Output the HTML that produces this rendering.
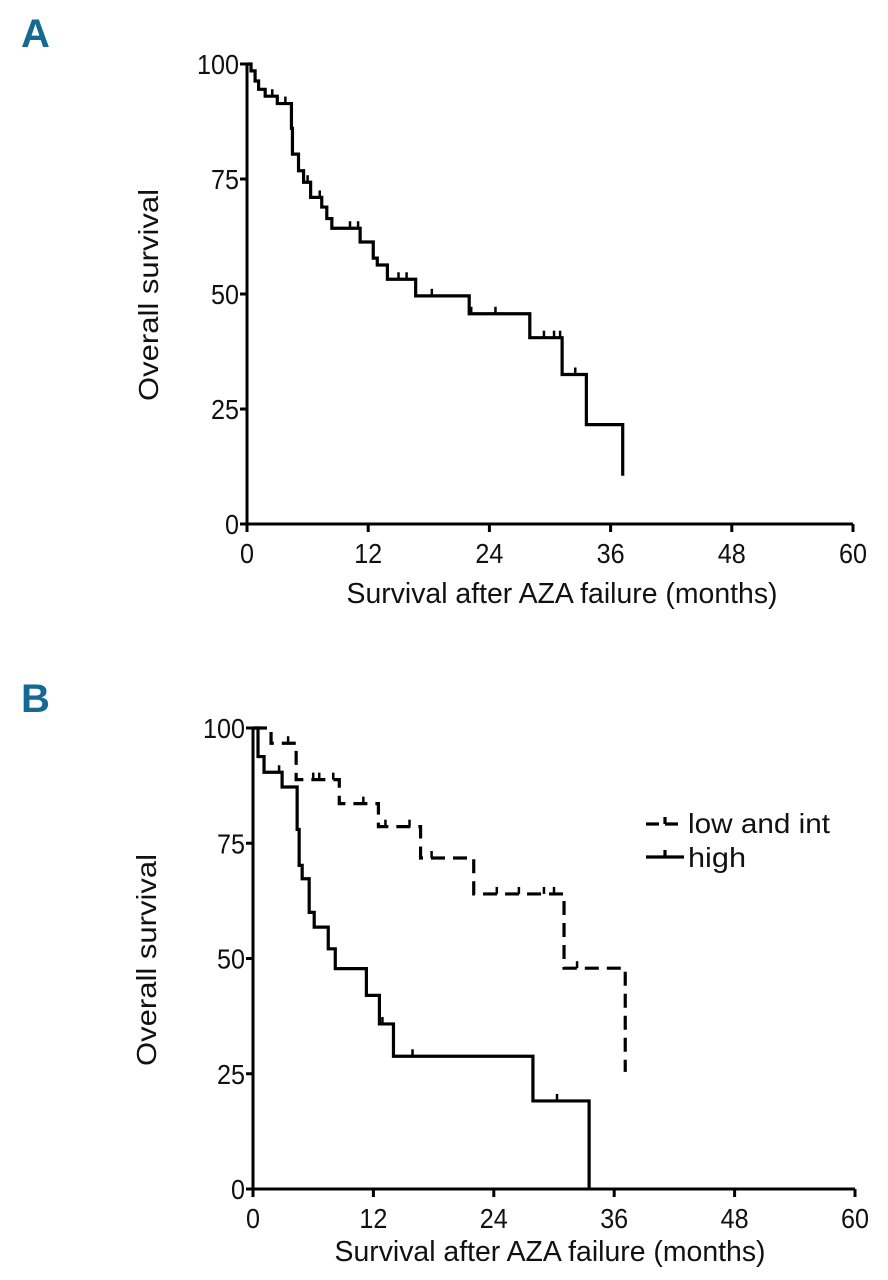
<!DOCTYPE html>
<html><head><meta charset="utf-8"><style>
html,body{margin:0;padding:0;background:#fff;}
svg{display:block;}
text{font-family:"Liberation Sans Narrow","Liberation Sans",sans-serif;fill:#111;}
</style></head><body>
<svg id="fig" width="888" height="1280" viewBox="0 0 888 1280" xmlns="http://www.w3.org/2000/svg">
<rect width="888" height="1280" fill="#fff"/>
</svg>
<script>
// Panel A data
const aTimes = [0,0.4,0.8,1.15,1.8,3,4.4,4.5,5.1,5.6,6.3,7.4,7.9,8.4,11.2,12.5,12.9,13.9,16.7,22,28,31.2,33.6,37.2];
const aSurv  = [100,98.5,96.3,94.5,93,91.4,86,80.4,76.8,74.3,71,68.9,66.4,64.3,61.3,57.8,56.3,53.2,49.6,45.7,40.5,32.5,21.6,10.5];
const aCensor = [2.5,3.8,6.0,7.2,10.2,11.0,15.0,15.8,18.3,22.2,24.6,29.4,30.4,31.0,32.5];
// Panel B data
const bLowTimes = [0,1.8,4.3,8.6,12.5,16.7,22,31,37.1];
const bLowSurv  = [100,96.7,88.8,83.6,78.6,71.8,64,47.9,25.4];
const bLowCensor = [3.5,6.0,6.6,8.0,11.0,13.2,15.6,17.8,24.3,26.5,29.0,30.0,32.3];
const bHighTimes = [0,0.5,1.1,2.9,4.4,4.6,4.9,5.6,6.1,7.5,8.2,11.3,12.6,14,27.9,33.5];
const bHighSurv  = [100,93.8,90.4,87.2,78,70.2,67.3,60,56.8,52.1,47.8,42,35.8,28.8,19.1,0];
const bHighCensor = [2.6,12.9,15.9,30.3];
const xTicks = [0,12,24,36,48,60];
const yTicks = [0,25,50,75,100];

const NS="http://www.w3.org/2000/svg";
const svg=document.getElementById('fig');
function el(tag,attrs,parent){const e=document.createElementNS(NS,tag);for(const k in attrs)e.setAttribute(k,attrs[k]);(parent||svg).appendChild(e);return e;}

function panel(cfg){
  const g=el('g',{});
  
  
  const sx=t=>cfg.x0+(cfg.x60-cfg.x0)*t/60;
  const sy=v=>cfg.y0+(cfg.y100-cfg.y0)*v/100;
  const lbl=el('text',{x:cfg.lx,y:cfg.ly,'font-size':40,'font-weight':'bold',style:'fill:#156a93;font-family:"Liberation Sans",sans-serif'},g);
  lbl.textContent=cfg.letter;
  
  
  const ax=el('path',{d:`M${sx(0)},${sy(100)}V${sy(0)}H${sx(60)}`,stroke:'#000','stroke-width':3,fill:'none'},g);
  
  
  for(const t of xTicks){
    const l=el('line',{x1:sx(t),x2:sx(t),y1:sy(0),y2:sy(0)+8,stroke:'#000','stroke-width':3},g);
    
    
    const s=String(t);
    const tx=el('text',{x:sx(t),y:sy(0)+39,'font-size':28,'text-anchor':'middle',textLength:s.length*14,lengthAdjust:'spacingAndGlyphs'},g);
    tx.textContent=s;
    
    
  }
  for(const v of yTicks){
    const l=el('line',{x1:sx(0)-7,x2:sx(0),y1:sy(v),y2:sy(v),stroke:'#000','stroke-width':3},g);
    
    
    const s=String(v);
    const tx=el('text',{x:sx(0)-8,y:sy(v)+10,'font-size':28,'text-anchor':'end',textLength:s.length*14,lengthAdjust:'spacingAndGlyphs'},g);
    tx.textContent=s;
    
    
  }
  const xt=el('text',{x:cfg.xtx,y:cfg.xty,'font-size':29,'text-anchor':'middle',textLength:431,lengthAdjust:'spacingAndGlyphs'},g);
  xt.textContent='Survival after AZA failure (months)';
  
  
  const yt=el('text',{x:0,y:0,'font-size':28,'text-anchor':'middle',textLength:212,lengthAdjust:'spacingAndGlyphs',transform:`translate(${cfg.ytx},${cfg.yty}) rotate(-90)`},g);
  yt.textContent='Overall survival';
  
  
  return {g,sx,sy};
}
function curve(p,times,surv,censor,dash,name){
  let d=`M${p.sx(times[0])},${p.sy(surv[0])}`;
  for(let i=1;i<times.length;i++){d+=`H${p.sx(times[i])}V${p.sy(surv[i])}`;}
  const path=el('path',{d,stroke:'#000','stroke-width':3.2,fill:'none','stroke-dasharray':dash||'none'},p.g);
  
  
  for(const c of censor){
    let v=surv[0];
    for(let i=0;i<times.length;i++){if(times[i]<=c)v=surv[i];}
    const m=el('line',{x1:p.sx(c),x2:p.sx(c),y1:p.sy(v),y2:p.sy(v)-7,stroke:'#000','stroke-width':2.5},p.g);
    
    
  }
}
const pA=panel({name:'panel-a',letter:'A',lx:21,ly:47,x0:247,x60:853,y0:524,y100:64,xtx:562,xty:603,ytx:158,yty:295});
curve(pA,aTimes,aSurv,aCensor,null,'survival-curve-all');
const pB=panel({name:'panel-b',letter:'B',lx:21,ly:712,x0:253,x60:855,y0:1189,y100:728,xtx:550,xty:1261,ytx:156,yty:960});
curve(pB,bLowTimes,bLowSurv,bLowCensor,'14 8','curve-low-and-int');
curve(pB,bHighTimes,bHighSurv,bHighCensor,null,'curve-high');
// legend
const lg=el('g',{},pB.g);


const l1=el('path',{d:'M646,824H684M665,824V817',stroke:'#000','stroke-width':3.2,'stroke-dasharray':'13 6',fill:'none'},lg);


const t1=el('text',{x:688,y:833,'font-size':28,textLength:142,lengthAdjust:'spacingAndGlyphs'},lg);t1.textContent='low and int';


const l2=el('path',{d:'M646,857H684M665,857V850',stroke:'#000','stroke-width':3.2,fill:'none'},lg);


const t2=el('text',{x:688,y:867,'font-size':28,textLength:58,lengthAdjust:'spacingAndGlyphs'},lg);t2.textContent='high';


</script>
</body></html>
